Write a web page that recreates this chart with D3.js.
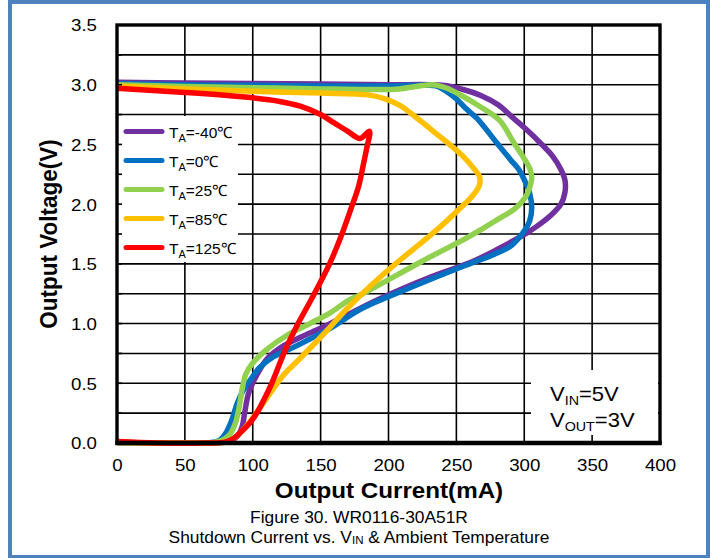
<!DOCTYPE html>
<html>
<head>
<meta charset="utf-8">
<script src="https://cdn.jsdelivr.net/npm/d3@7"></script>
<style>
  body { margin: 0; background: #fff; }
  svg { display: block; }
  text { font-family: "Liberation Sans", Arial, sans-serif; fill: #000; }
</style>
</head>
<body>
<svg id="chart" width="719" height="558"></svg>
<script>
// Axis ticks
const xTicks = [0, 50, 100, 150, 200, 250, 300, 350, 400];
const yTicks = [0, 0.5, 1.0, 1.5, 2.0, 2.5, 3.0, 3.5];

// Ambient temperatures and their colours
const temps = ['-40', '0', '25', '85', '125'];
const colors = ['#7030a0', '#0070c0', '#92d050', '#ffc000', '#ff0000'];

// Fold-back traces: [output current (mA), output voltage (V)], in sweep order
const tNeg40 = [[0,3.02],[50,3.015],[100,3.01],[150,3.005],[200,3.0],[240,2.995],[255,2.96],[268,2.91],[281,2.83],[292,2.72],[302,2.62],[312,2.51],[321,2.40],[327,2.29],[330,2.20],[330,2.10],[327,2.00],[319,1.90],[310,1.82],[302,1.76],[280,1.62],[262,1.52],[231,1.39],[194,1.21],[164,1.04],[150,0.96],[136,0.89],[122,0.81],[111,0.71],[103,0.57],[97,0.42],[94,0.25],[92,0.13],[88,0.05],[81,0.01],[70,0],[50,0],[25,0],[0,0.005]];
const t0 = [[0,3.01],[50,3.0],[100,2.995],[150,2.99],[200,2.99],[225,2.995],[235,2.99],[248,2.90],[257,2.80],[265,2.72],[280,2.51],[290,2.37],[296,2.29],[301,2.18],[304,2.09],[305.5,1.97],[304,1.86],[299,1.76],[290,1.65],[278,1.58],[255,1.48],[218,1.31],[181,1.13],[168,1.04],[157,0.96],[142,0.87],[128,0.79],[115,0.72],[105,0.63],[99,0.54],[93,0.44],[88.5,0.33],[84.5,0.19],[80,0.08],[75,0.02],[68,0.003],[50,0],[25,0],[0,0.005]];
const t25 = [[0,3.0],[50,2.985],[100,2.975],[150,2.965],[190,2.96],[208,2.965],[220,2.985],[233,3.0],[243,2.97],[252,2.92],[267,2.82],[282,2.70],[292,2.52],[300,2.38],[304,2.30],[305.5,2.22],[304,2.14],[301,2.06],[293,1.96],[283,1.89],[270,1.80],[258,1.72],[231,1.56],[218,1.48],[181,1.25],[170,1.19],[157,1.09],[142,1.0],[125,0.90],[110,0.78],[100,0.67],[95,0.58],[92.5,0.47],[91,0.37],[89.5,0.27],[87,0.16],[83,0.07],[77,0.02],[70,0.003],[50,0],[25,0],[0,0.004]];
const t85 = [[0,2.99],[50,2.965],[100,2.945],[150,2.93],[185,2.915],[198,2.88],[208,2.83],[220,2.73],[233,2.61],[245,2.50],[255,2.40],[262,2.31],[267,2.23],[267,2.16],[262,2.07],[255,1.99],[243,1.86],[231,1.74],[218,1.62],[194,1.39],[169,1.12],[157,0.97],[147,0.85],[135,0.71],[122,0.56],[113,0.42],[105,0.29],[98,0.18],[92,0.10],[86,0.04],[80,0.01],[70,0],[50,0],[25,0],[0,0.005]];
const t125 = [[0,2.97],[50,2.935],[100,2.89],[120,2.86],[135,2.82],[150,2.75],[160,2.68],[170,2.61],[179,2.55],[186,2.61],[184,2.47],[182,2.36],[178,2.15],[172,1.95],[165,1.73],[157,1.51],[150,1.35],[143,1.20],[132,0.97],[124,0.78],[119,0.64],[114,0.50],[109,0.38],[104,0.27],[98,0.17],[92,0.10],[86,0.04],[80,0.01],[65,0],[30,0],[0,0.012]];

const series = [tNeg40, t0, t25, t85, t125];

const SX = 1.1; // horizontal glyph stretch used throughout the figure
const svg = d3.select('#chart');

const x = d3.scaleLinear().domain([0, 400]).range([117, 660]);
const y = d3.scaleLinear().domain([0, 3.5]).range([443, 25]);

// page frame
svg.append('rect')
  .attr('x', 10).attr('y', 2).attr('width', 698).attr('height', 555)
  .attr('fill', '#fff').attr('stroke', '#4f81bd').attr('stroke-width', 4);

// grid
const grid = svg.append('g');
grid.selectAll('line.h').data(d3.range(0.25, 3.5, 0.25)).join('line')
  .attr('x1', x(0)).attr('x2', x(400))
  .attr('y1', d => y(d)).attr('y2', d => y(d))
  .attr('stroke', '#000').attr('stroke-width', 1.6);
grid.selectAll('line.v').data(d3.range(50, 400, 50)).join('line')
  .attr('y1', y(0)).attr('y2', y(3.5))
  .attr('x1', d => x(d)).attr('x2', d => x(d))
  .attr('stroke', '#000').attr('stroke-width', 1.6);

// curves
const line = d3.line()
  .x(d => x(d[0])).y(d => y(d[1]))
  .curve(d3.curveCatmullRom.alpha(0.5));
svg.append('g').selectAll('path').data(series).join('path')
  .attr('d', line)
  .attr('fill', 'none')
  .attr('stroke', (d, i) => colors[i])
  .attr('stroke-width', 5.5)
  .attr('stroke-linejoin', 'round');

function stext(g, px, py, size, weight, anchor, sx = SX) {
  return g.append('text')
    .attr('transform', `translate(${px},${py}) scale(${sx},1)`)
    .attr('font-size', size)
    .attr('font-weight', weight)
    .attr('text-anchor', anchor);
}

// legend
const lg = svg.append('g');
lg.append('rect').attr('x', 119).attr('y', 116).attr('width', 119).attr('height', 146).attr('fill', '#fff');
temps.forEach((t, i) => {
  const cy = 131.5 + i * 29;
  lg.append('line')
    .attr('x1', 126).attr('x2', 162).attr('y1', cy).attr('y2', cy)
    .attr('stroke', colors[i]).attr('stroke-width', 5).attr('stroke-linecap', 'round');
  const tx = stext(lg, 169, cy + 6, 15.5, 'normal', 'start', 1);
  tx.append('tspan').text('T');
  tx.append('tspan').attr('font-size', 11).attr('dy', 4).text('A');
  tx.append('tspan').attr('dy', -4).text('=' + t + '℃');
});

// test conditions
const cg = svg.append('g');
cg.append('rect').attr('x', 531).attr('y', 370).attr('width', 127).attr('height', 65).attr('fill', '#fff');
[['IN', '=5V'], ['OUT', '=3V']].forEach((c, i) => {
  const tx = stext(cg, 550, 401 + i * 26, 20, 'normal', 'start');
  tx.append('tspan').text('V');
  tx.append('tspan').attr('font-size', 13).attr('dy', 4).text(c[0]);
  tx.append('tspan').attr('dy', -4).text(c[1]);
});

// inner tick marks on the value axis
svg.append('g').selectAll('line').data(d3.range(0.25, 3.5, 0.25)).join('line')
  .attr('x1', x(0)).attr('x2', x(0) + 5)
  .attr('y1', d => y(d)).attr('y2', d => y(d))
  .attr('stroke', '#000').attr('stroke-width', 1.6);

// plot frame, with a heavier baseline
svg.append('rect')
  .attr('x', x(0)).attr('y', y(3.5))
  .attr('width', x(400) - x(0)).attr('height', y(0) - y(3.5))
  .attr('fill', 'none').attr('stroke', '#000').attr('stroke-width', 3.4);
svg.append('line')
  .attr('x1', x(0) - 1.7).attr('x2', x(400) + 1.7)
  .attr('y1', y(0)).attr('y2', y(0))
  .attr('stroke', '#000').attr('stroke-width', 4.6);

// axes
const xAxis = svg.append('g').attr('transform', `translate(0,${y(0)})`)
  .call(d3.axisBottom(x).tickValues(xTicks).tickSize(0));
xAxis.select('.domain').remove();
xAxis.selectAll('text')
  .attr('y', 0).attr('dy', null)
  .attr('transform', `translate(0,27.5) scale(${SX},1)`)
  .attr('font-size', 17).attr('fill', '#111');

const yAxis = svg.append('g').attr('transform', `translate(${x(0)},0)`)
  .call(d3.axisLeft(y).tickValues(yTicks).tickFormat(d3.format('.1f')).tickSize(0));
yAxis.select('.domain').remove();
yAxis.selectAll('text')
  .attr('x', 0).attr('dy', '0.35em')
  .attr('transform', `translate(-20,0) scale(${SX},1)`)
  .attr('font-size', 17).attr('fill', '#111');
svg.selectAll('.tick line').remove();
xAxis.attr('font-family', null).attr('font-size', null);
yAxis.attr('font-family', null).attr('font-size', null);

// axis titles
stext(svg, 389, 498, 22, 'bold', 'middle').text('Output Current(mA)');
svg.append('text')
  .attr('transform', `translate(56.5,234) scale(${SX},1) rotate(-90)`)
  .attr('font-size', 22.5).attr('font-weight', 'bold').attr('text-anchor', 'middle')
  .text('Output Voltage(V)');

// caption
stext(svg, 359, 523, 15.8, 'normal', 'middle').text('Figure 30. WR0116-30A51R');
const cap = stext(svg, 359, 542.5, 15.8, 'normal', 'middle');
cap.append('tspan').text('Shutdown Current vs. V');
cap.append('tspan').attr('font-size', 10.5).attr('dy', 1).text('IN');
cap.append('tspan').attr('dy', -1).text(' & Ambient Temperature');
</script>
</body>
</html>
